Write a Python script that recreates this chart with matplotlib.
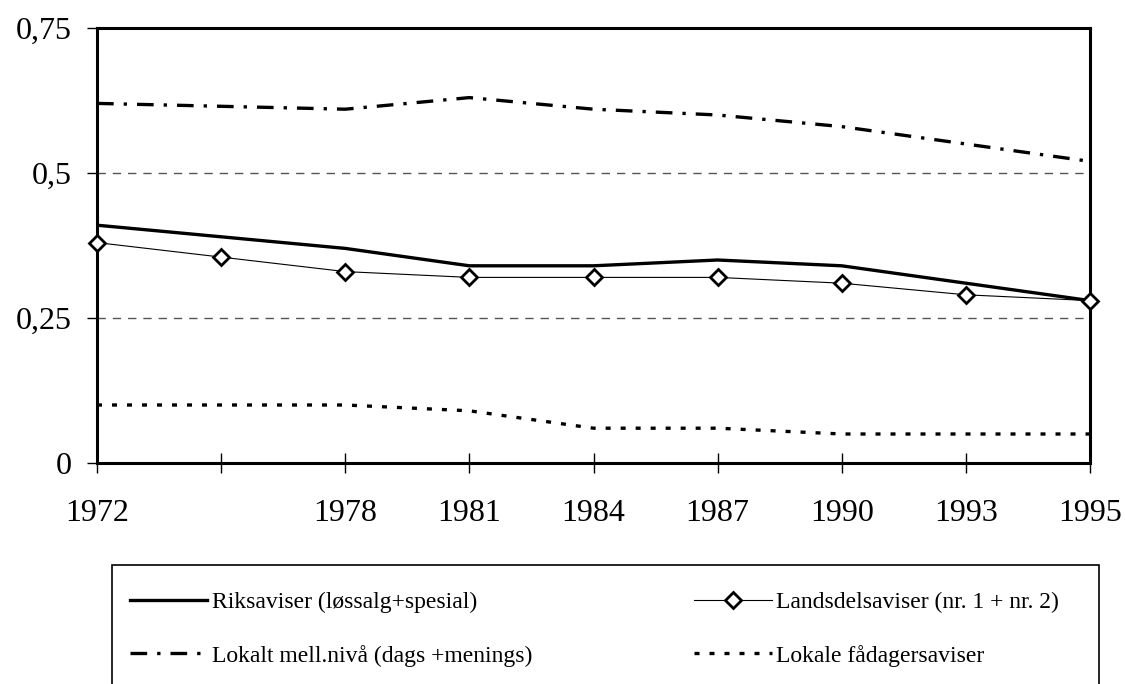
import matplotlib.pyplot as plt
import matplotlib.patches as mpatches
import numpy as np

plt.rcParams['font.family'] = ['Liberation Serif', 'DejaVu Serif']

years = ['1972', '', '1978', '1981', '1984', '1987', '1990', '1993', '1995']
riksaviser = [0.41, 0.39, 0.37, 0.34, 0.34, 0.35, 0.34, 0.31, 0.28]
landsdel = [0.38, 0.355, 0.33, 0.32, 0.32, 0.32, 0.31, 0.29, 0.28]
lokalt_mell = [0.62, 0.615, 0.61, 0.63, 0.61, 0.60, 0.58, 0.55, 0.52]
faadager = [0.10, 0.10, 0.10, 0.09, 0.06, 0.06, 0.05, 0.05, 0.05]

x = np.arange(len(years))

fig = plt.figure(figsize=(11.25, 6.84), dpi=100)
ax = fig.add_axes([97 / 1125, 1 - 463 / 684, (1090 - 97) / 1125, (463 - 28) / 684])

# grid lines
for g in [0.25, 0.5]:
    ax.axhline(g, color='#555555', lw=1.0, dashes=(6, 5), zorder=1)

l1, = ax.plot(x, riksaviser, color='black', lw=2.4, zorder=3,
              label='Riksaviser (løssalg+spesial)')
l2, = ax.plot(x, landsdel, color='black', lw=0.8, marker='D', ms=8,
              mfc='white', mec='black', mew=2, zorder=4, clip_on=False,
              label='Landsdelsaviser (nr. 1 + nr. 2)')
l3, = ax.plot(x, lokalt_mell, color='black', lw=2.4, dashes=(5, 3, 1, 3), zorder=3,
              label='Lokalt mell.nivå (dags +menings)')
l4, = ax.plot(x, faadager, color='black', lw=2.4, dashes=(1.5, 3), zorder=3,
              label='Lokale fådagersaviser')

ax.set_xlim(0, len(years) - 1)
ax.set_ylim(0, 0.75)
ax.set_xticks(x)
ax.set_xticklabels(years)
ax.set_yticks([0, 0.25, 0.5, 0.75])
ax.set_yticklabels(['0', '0,25', '0,5', '0,75'])
ax.tick_params(axis='x', direction='inout', length=14, width=1, pad=19, labelsize=23)
ax.tick_params(axis='y', direction='out', length=7, width=1, pad=11, labelsize=23)
for s in ax.spines.values():
    s.set_linewidth(2.2)

# legend box runs off the bottom of the page
rect = mpatches.Rectangle((112 / 1125, -0.05), (1099 - 112) / 1125, 1 - 565 / 684 + 0.05,
                          transform=fig.transFigure, fill=False, lw=1.2, edgecolor='black')
fig.patches.append(rect)
fig.legend(handles=[l1, l3, l2, l4], ncol=2, frameon=False, fontsize=17,
           loc='upper left', bbox_to_anchor=(109 / 1125, 1 - 570 / 684),
           handlelength=3.27, handletextpad=0.2, columnspacing=6.85, labelspacing=1.35)

fig.savefig('out.png', dpi=100)
